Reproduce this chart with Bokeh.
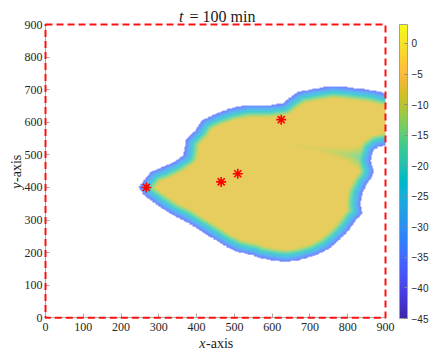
import numpy as np
from bokeh.plotting import figure
from bokeh.models import (LinearColorMapper, ColorBar, FixedTicker, BoxAnnotation,
                          Label, Range1d, LinearAxis)
from bokeh.embed import file_html
from bokeh.resources import INLINE

# ---------------- data ----------------
boundary_x = [247, 278, 313, 340, 366, 371, 397, 415, 454, 490, 534, 591, 627, 644,
              670, 715, 759, 794, 829, 865, 900, 900, 882, 869, 860, 869, 865, 852,
              838, 834, 838, 821, 803, 776, 750, 715, 670, 635, 600, 556, 551, 507,
              472, 437, 402, 366, 331, 296, 260]
boundary_y = [401, 447, 463, 478, 499, 545, 575, 606, 627, 642, 652, 652, 657, 673,
              693, 703, 711, 708, 703, 698, 688, 529, 524, 514, 483, 452, 432, 412,
              381, 350, 319, 299, 268, 237, 212, 191, 176, 171, 176, 186, 191, 202,
              222, 248, 273, 299, 319, 345, 376]
clip_edge = 20          # edge boundary[20] -> boundary[21] lies on the x = 900 cut

seam_x = [862, 800, 720, 640]
seam_y = [488, 500, 518, 535]
seam_level = [-19, -12, -9, -8]

star_x = [267, 465, 509, 624]
star_y = [400, 417, 442, 608]

domain = [0, 900]
x_ticks = [0, 100, 200, 300, 400, 500, 600, 700, 800, 900]
y_ticks = [0, 100, 200, 300, 400, 500, 600, 700, 800, 900]
cbar_ticks = [-45, -40, -35, -30, -25, -20, -15, -10, -5, 0]
c_low, c_high = -45, 3.1
edge_level, core_level = -38.0, -7.5

# MATLAB parula (64)
parula64 = [
    (0.2422, 0.1504, 0.6603), (0.2504, 0.1650, 0.7076), (0.2578, 0.1818, 0.7511),
    (0.2647, 0.1978, 0.7952), (0.2706, 0.2147, 0.8364), (0.2751, 0.2342, 0.8710),
    (0.2783, 0.2559, 0.8991), (0.2803, 0.2782, 0.9221), (0.2813, 0.3006, 0.9414),
    (0.2810, 0.3228, 0.9579), (0.2795, 0.3447, 0.9717), (0.2760, 0.3667, 0.9829),
    (0.2699, 0.3892, 0.9906), (0.2602, 0.4123, 0.9952), (0.2440, 0.4358, 0.9988),
    (0.2206, 0.4603, 0.9973), (0.1963, 0.4847, 0.9892), (0.1834, 0.5074, 0.9798),
    (0.1786, 0.5289, 0.9682), (0.1764, 0.5499, 0.9520), (0.1687, 0.5703, 0.9359),
    (0.1540, 0.5902, 0.9218), (0.1460, 0.6091, 0.9079), (0.1380, 0.6276, 0.8973),
    (0.1248, 0.6459, 0.8883), (0.1113, 0.6635, 0.8763), (0.0952, 0.6798, 0.8598),
    (0.0689, 0.6948, 0.8394), (0.0297, 0.7082, 0.8163), (0.0036, 0.7203, 0.7917),
    (0.0067, 0.7312, 0.7660), (0.0433, 0.7411, 0.7394), (0.0964, 0.7500, 0.7120),
    (0.1408, 0.7584, 0.6842), (0.1717, 0.7670, 0.6554), (0.1938, 0.7758, 0.6251),
    (0.2161, 0.7843, 0.5923), (0.2470, 0.7918, 0.5567), (0.2906, 0.7973, 0.5188),
    (0.3406, 0.8008, 0.4789), (0.3909, 0.8029, 0.4354), (0.4456, 0.8024, 0.3909),
    (0.5044, 0.7993, 0.3480), (0.5616, 0.7942, 0.3045), (0.6174, 0.7876, 0.2612),
    (0.6720, 0.7793, 0.2227), (0.7242, 0.7698, 0.1910), (0.7738, 0.7598, 0.1646),
    (0.8203, 0.7498, 0.1535), (0.8634, 0.7406, 0.1596), (0.9035, 0.7330, 0.1774),
    (0.9393, 0.7288, 0.2100), (0.9728, 0.7298, 0.2394), (0.9956, 0.7434, 0.2371),
    (0.9970, 0.7659, 0.2199), (0.9952, 0.7893, 0.2028), (0.9892, 0.8136, 0.1885),
    (0.9786, 0.8386, 0.1766), (0.9676, 0.8639, 0.1643), (0.9610, 0.8890, 0.1537),
    (0.9597, 0.9135, 0.1423), (0.9628, 0.9373, 0.1265), (0.9691, 0.9606, 0.1064),
    (0.9769, 0.9839, 0.0805)]

arr = np.array(parula64)
t_src = np.linspace(0, 1, len(arr))
palette = []
for t in np.linspace(0, 1, 256):
    rgb = [np.interp(t, t_src, arr[:, k]) for k in range(3)]
    palette.append("#%02x%02x%02x" % tuple(int(round(c * 255)) for c in rgb))

# ---------------- field shown inside the outline ----------------
step = 2.0
gx = np.arange(step / 2, 900, step)
gy = np.arange(step / 2, 900, step)
X, Y = np.meshgrid(gx, gy)
bx = np.array(boundary_x, float); by = np.array(boundary_y, float)
n = len(bx)

inside = np.zeros(X.shape, bool)
dist = np.full(X.shape, np.inf)
for i in range(n):
    x1, y1 = bx[i], by[i]
    x2, y2 = bx[(i + 1) % n], by[(i + 1) % n]
    cond = (y1 > Y) != (y2 > Y)
    xint = x1 + (Y - y1) * (x2 - x1) / ((y2 - y1) if y2 != y1 else 1e-9)
    inside ^= cond & (X < xint)
    if i == clip_edge:
        continue
    dx, dy = x2 - x1, y2 - y1
    tt = np.clip(((X - x1) * dx + (Y - y1) * dy) / (dx * dx + dy * dy), 0, 1)
    d = np.hypot(X - (x1 + tt * dx), Y - (y1 + tt * dy))
    dist = np.minimum(dist, d)

field = np.minimum(edge_level + 0.8 * dist, core_level)

sx = np.array(seam_x, float); sy = np.array(seam_y, float); sl = np.array(seam_level, float)
for i in range(len(sx) - 1):
    dx, dy = sx[i + 1] - sx[i], sy[i + 1] - sy[i]
    tt = np.clip(((X - sx[i]) * dx + (Y - sy[i]) * dy) / (dx * dx + dy * dy), 0, 1)
    d = np.hypot(X - (sx[i] + tt * dx), Y - (sy[i] + tt * dy))
    lev = sl[i] + tt * (sl[i + 1] - sl[i])
    field = np.minimum(field, lev + 0.2 * d)

field = np.where(inside, field, np.nan)

# ---------------- figure (frame fills the canvas; axes pinned at 0) ----------------
W, H = 432, 350
fx0, fx1 = 45.0, 385.0          # canvas px of x = 0 and x = 900
fy0, fy1 = 317.3, 24.0          # canvas px of y = 0 and y = 900
kx = 900 / (fx1 - fx0)
ky = 900 / (fy0 - fy1)
xr = Range1d(-fx0 * kx, (W - fx0) * kx)
yr = Range1d(-(H - fy0) * ky, fy0 * ky)

p = figure(width=W, height=H, x_range=xr, y_range=yr, output_backend="svg",
           toolbar_location=None, x_axis_type=None, y_axis_type=None,
           min_border=0, min_border_left=0, min_border_right=0,
           min_border_top=0, min_border_bottom=0)
p.outline_line_color = None
p.grid.visible = False

mapper = LinearColorMapper(palette=palette, low=c_low, high=c_high, nan_color=(0, 0, 0, 0))
p.image(image=[field], x=domain[0], y=domain[0], dw=domain[1] - domain[0],
        dh=domain[1] - domain[0], color_mapper=mapper, global_alpha=0.75)

xa = LinearAxis(fixed_location=domain[0], bounds=(domain[0], domain[1]),
                ticker=FixedTicker(ticks=x_ticks))
ya = LinearAxis(fixed_location=domain[0], bounds=(domain[0], domain[1]),
                ticker=FixedTicker(ticks=y_ticks))
for ax in (xa, ya):
    ax.minor_tick_line_color = None
    ax.major_tick_in = 4
    ax.major_tick_out = 0
    ax.axis_line_color = "#a8a8a8"
    ax.major_tick_line_color = "#a8a8a8"
    ax.major_label_text_font = "Liberation Serif"
    ax.major_label_text_font_size = "12px"
    ax.major_label_text_color = "#262626"
xa.major_label_standoff = 5
ya.major_label_standoff = 3
p.add_layout(xa, "below")
p.add_layout(ya, "left")

p.add_layout(BoxAnnotation(left=domain[0], right=domain[1], bottom=domain[0], top=domain[1],
                           fill_alpha=0, fill_color=None, line_color="#ff1010",
                           line_alpha=1.0, line_width=2, line_dash="7 4"))

p.scatter(star_x, star_y, marker="asterisk", size=10, line_color="red", line_width=1.6)

cb = ColorBar(color_mapper=mapper, ticker=FixedTicker(ticks=cbar_ticks), width=8,
              height=294, padding=0, margin=0, location=(399, 350 - 318),
              major_label_text_font="Liberation Sans", major_label_text_font_size="10px",
              major_label_text_color="#262626", major_tick_in=3, major_tick_out=0,
              major_tick_line_color="#8a8a8a", bar_line_color="#a0a0a0",
              label_standoff=4, border_line_color=None, background_fill_color=None)
p.add_layout(cb, "center")

def lab(px, py, text, align, style="normal", size="16px", angle=0):
    p.add_layout(Label(x=(px - fx0) * kx, y=(fy0 - py) * ky, text=text, text_align=align,
                       text_baseline="alphabetic", text_font="Liberation Serif",
                       text_font_style=style, text_font_size=size, text_color="#1a1a1a",
                       angle=angle))

# title  t = 100 min
lab(183, 16, "t", "right", "italic")
lab(189, 16, "=  100 min", "left")
# x-axis label
lab(205, 343, "x", "right", "italic", "14px")
lab(205.5, 343, "-axis", "left", "normal", "14px")
# y-axis label
lab(16, 182, "y", "right", "italic", "14px", np.pi / 2)
lab(16, 181.5, "-axis", "left", "normal", "14px", np.pi / 2)

open("out.html", "w").write(file_html(p, INLINE))
